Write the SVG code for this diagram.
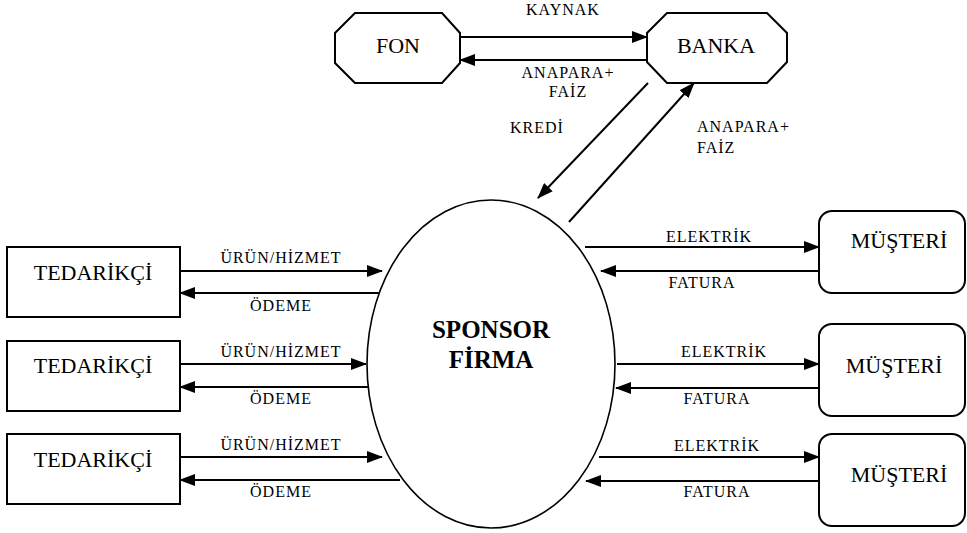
<svg xmlns="http://www.w3.org/2000/svg" width="967" height="533" viewBox="0 0 967 533">
<defs>
<marker id="ah" viewBox="0 0 16 12" refX="15" refY="6" markerWidth="16" markerHeight="12" markerUnits="userSpaceOnUse" orient="auto">
<path d="M0,0 L16,6 L0,12 Z" fill="#000"/>
</marker>
<style>
.shape{fill:#fff;stroke:#000;stroke-width:2}
.node{font-family:"Liberation Serif","Times New Roman",serif;font-size:22px;fill:#000;text-anchor:middle}
.lbl{font-family:"Liberation Serif","Times New Roman",serif;font-size:16px;fill:#000;text-anchor:middle;letter-spacing:1px}
.lbl2{font-family:"Liberation Serif","Times New Roman",serif;font-size:16px;fill:#000;letter-spacing:1px}
.title{font-family:"Liberation Serif","Times New Roman",serif;font-size:25px;font-weight:bold;fill:#000;text-anchor:middle}
.c{stroke:#000;stroke-width:2;fill:none;marker-end:url(#ah)}
</style>
</defs>
<rect width="967" height="533" fill="#fff"/>

<g id="connectors">
<line class="c" x1="460" y1="37" x2="647" y2="37"/>
<line class="c" x1="647" y1="60" x2="460" y2="60"/>
<line class="c" x1="648" y1="83" x2="538" y2="198"/>
<line class="c" x1="569" y1="222" x2="694" y2="83"/>

<line class="c" x1="180" y1="271" x2="382" y2="271"/>
<line class="c" x1="383" y1="293" x2="180" y2="293"/>
<line class="c" x1="180" y1="364" x2="366" y2="364"/>
<line class="c" x1="368" y1="387" x2="180" y2="387"/>
<line class="c" x1="180" y1="457" x2="382" y2="457"/>
<line class="c" x1="400" y1="480" x2="180" y2="480"/>

<line class="c" x1="585" y1="247" x2="819" y2="247"/>
<line class="c" x1="819" y1="271" x2="601" y2="271"/>
<line class="c" x1="617" y1="364" x2="819" y2="364"/>
<line class="c" x1="819" y1="388" x2="616" y2="388"/>
<line class="c" x1="599" y1="457" x2="819" y2="457"/>
<line class="c" x1="819" y1="481" x2="586" y2="481"/>

<text class="lbl" x="563" y="15">KAYNAK</text>
<text class="lbl" x="568" y="78">ANAPARA+</text>
<text class="lbl" x="568" y="97">FAİZ</text>
<text class="lbl2" x="510" y="133">KREDİ</text>
<text class="lbl2" x="697" y="132">ANAPARA+</text>
<text class="lbl2" x="697" y="153">FAİZ</text>

<text class="lbl" x="281" y="263">ÜRÜN/HİZMET</text>
<text class="lbl" x="281" y="311">ÖDEME</text>
<text class="lbl" x="281" y="357">ÜRÜN/HİZMET</text>
<text class="lbl" x="281" y="404">ÖDEME</text>
<text class="lbl" x="281" y="450">ÜRÜN/HİZMET</text>
<text class="lbl" x="281" y="497">ÖDEME</text>

<text class="lbl" x="709" y="242">ELEKTRİK</text>
<text class="lbl" x="702" y="288">FATURA</text>
<text class="lbl" x="724" y="357">ELEKTRİK</text>
<text class="lbl" x="717" y="404">FATURA</text>
<text class="lbl" x="717" y="451">ELEKTRİK</text>
<text class="lbl" x="717" y="497">FATURA</text>
</g>

<g id="fon">
<polygon class="shape" points="335,33 355,13 442,13 460,33 460,63 442,83 355,83 335,63"/>
<text class="node" x="398" y="53">FON</text>
</g>
<g id="banka">
<polygon class="shape" points="647,33 667,13 767,13 787,33 787,62 767,83 667,83 647,62"/>
<text class="node" x="716" y="53">BANKA</text>
</g>

<g id="sponsor">
<ellipse cx="491" cy="364" rx="124" ry="164" fill="#fff" stroke="#000" stroke-width="1.6"/>
<text class="title" x="491" y="338">SPONSOR</text>
<text class="title" x="491" y="368">FİRMA</text>
</g>

<g id="tedarikci1">
<rect class="shape" x="7" y="247" width="173" height="70"/>
<text class="node" x="93" y="280">TEDARİKÇİ</text>
</g>
<g id="tedarikci2">
<rect class="shape" x="7" y="341" width="173" height="70"/>
<text class="node" x="93" y="373">TEDARİKÇİ</text>
</g>
<g id="tedarikci3">
<rect class="shape" x="7" y="434" width="173" height="70"/>
<text class="node" x="93" y="467">TEDARİKÇİ</text>
</g>

<g id="musteri1">
<rect class="shape" x="819" y="211" width="146" height="82" rx="13" ry="13"/>
<text class="node" x="899" y="248">MÜŞTERİ</text>
</g>
<g id="musteri2">
<rect class="shape" x="819" y="324" width="146" height="92" rx="13" ry="13"/>
<text class="node" x="894" y="373">MÜŞTERİ</text>
</g>
<g id="musteri3">
<rect class="shape" x="819" y="434" width="146" height="92" rx="13" ry="13"/>
<text class="node" x="899" y="482">MÜŞTERİ</text>
</g>
</svg>
